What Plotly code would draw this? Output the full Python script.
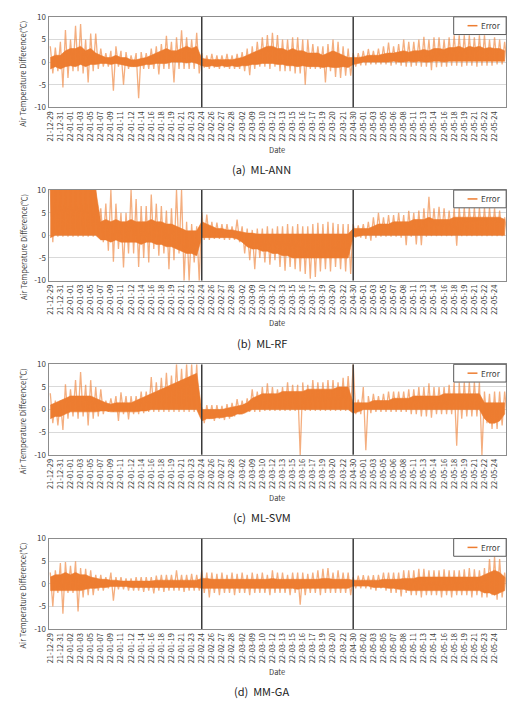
import plotly.graph_objects as go

W, H = 524, 704
ORANGE = "#ED7D31"
SPIKE = "rgba(237,125,49,0.62)"
FONT = "Noto Sans CJK KR"

# ---------------- tick labels ----------------
SEG1 = ["21-12-29", "21-12-31", "22-01-01", "22-01-03", "22-01-05", "22-01-07", "22-01-09", "22-01-11",
        "22-01-12", "22-01-14", "22-01-16", "22-01-18", "22-01-19", "22-01-21", "22-01-23", "22-02-24"]
SEG1_D = ["21-12-29", "21-12-31", "22-01-02", "22-01-03", "22-01-05", "22-01-07", "22-01-09", "22-01-11",
          "22-01-12", "22-01-14", "22-01-16", "22-01-18", "22-01-19", "22-01-21", "22-01-23", "22-02-24"]
SEG2_21 = ["22-02-26", "22-02-27", "22-02-28", "22-03-02", "22-03-09", "22-03-10", "22-03-12", "22-03-13",
           "22-03-15", "22-03-16", "22-03-17", "22-03-19", "22-03-20", "22-03-21", "22-04-30"]
SEG2_22 = ["22-02-26", "22-02-27", "22-02-28", "22-03-02", "22-03-09", "22-03-10", "22-03-12", "22-03-13",
           "22-03-15", "22-03-16", "22-03-17", "22-03-19", "22-03-20", "22-03-22", "22-04-30"]
SEG3_A = ["22-05-01", "22-05-03", "22-05-05", "22-05-06", "22-05-08", "22-05-11", "22-05-13", "22-05-14",
          "22-05-16", "22-05-18", "22-05-19", "22-05-21", "22-05-22", "22-05-24"]
SEG3_B = ["22-05-01", "22-05-03", "22-05-05", "22-05-07", "22-05-08", "22-05-11", "22-05-13", "22-05-14",
          "22-05-16", "22-05-18", "22-05-19", "22-05-21", "22-05-22", "22-05-24"]
SEG3_D = ["22-05-02", "22-05-03", "22-05-05", "22-05-07", "22-05-08", "22-05-11", "22-05-13", "22-05-14",
          "22-05-16", "22-05-18", "22-05-19", "22-05-21", "22-05-23", "22-05-24"]

LABELS_A = SEG1 + SEG2_21 + SEG3_A
LABELS_B = SEG1 + SEG2_22 + SEG3_B
LABELS_C = SEG1 + SEG2_22 + SEG3_A
LABELS_D = SEG1_D + SEG2_22 + SEG3_D

Y_TICKS = [-10, -5, 0, 5, 10]
Y_TEXT = ["-10", "-5", "0", "5", "10"]

# ---------------- error values, read every half tick (0, 0.5, ... 45) ----------------
# UP / DN: extreme spikes; CORE_HI / CORE_LO: dense body of the series
# (a) ML-ANN
ANN_UP = [3.5, 3.2, 4.5, 7.1, 5.0, 8.0, 8.4, 5.0, 6.3, 6.3, 3.0, 2.0, 2.5, 3.5, 2.5, 2.2, 1.5, 2.0, 2.2, 2.0,
          3.0, 3.5, 4.0, 5.8, 4.5, 5.5, 7.0, 5.5, 5.0, 6.5,
          2.0, 1.5, 1.8, 1.5, 1.5, 1.8, 1.5, 1.8, 2.2, 3.0, 3.5, 4.5, 5.5, 6.0, 6.5, 6.0, 5.0, 5.0, 5.5, 5.5,
          5.0, 5.0, 4.0, 3.5, 3.5, 4.0, 5.0, 4.5, 3.5, 3.0,
          2.0, 2.0, 2.5, 2.9, 2.5, 3.0, 3.5, 4.3, 3.5, 4.0, 5.0, 4.5, 4.5, 5.0, 5.6, 5.0, 5.5, 5.5, 5.0, 5.5,
          5.9, 5.9, 5.9, 5.9, 5.5, 5.9, 5.9, 5.0, 5.5, 5.0, 4.5]
ANN_DN = [-2.5, -2.0, -5.6, -3.5, -2.0, -2.0, -2.5, -4.5, -2.0, -1.5, -1.0, -1.0, -6.3, -1.0, -5.0, -1.5, -1.0,
          -8.0, -1.5, -1.5, -1.5, -2.7, -1.5, -1.5, -4.5, -1.5, -1.5, -1.5, -1.5, -2.5,
          -1.2, -1.5, -1.2, -1.5, -1.2, -1.5, -1.5, -1.5, -2.0, -2.9, -1.5, -1.0, -1.0, -1.5, -1.0, -2.0, -2.0,
          -2.0, -2.5, -2.5, -5.0, -1.5, -1.5, -1.5, -4.5, -2.0, -3.3, -3.5, -3.0, -3.0,
          -1.0, -0.7, -0.7, -0.5, -0.5, -0.5, -0.5, -0.8, -0.5, -0.8, -1.0, -1.0, -0.8, -1.0, -1.0, -1.8, -1.1,
          -1.0, -1.0, -0.8, -0.8, -1.0, -0.8, -0.8, -1.0, -0.8, -0.8, -0.8, -0.5, -0.5, -0.5]
ANN_CORE_HI = [1.0, 1.5, 1.5, 2.5, 3.0, 3.0, 3.5, 2.5, 3.0, 2.0, 1.5, 1.0, 1.0, 1.5, 1.0, 1.0, 0.5, 0.5, 0.8, 1.0,
               1.5, 2.0, 2.5, 3.0, 2.5, 2.5, 3.0, 3.5, 3.0, 3.5,
               0.8, 0.6, 0.5, 0.6, 0.5, 0.6, 0.5, 0.8, 1.0, 1.5, 2.0, 2.5, 3.0, 3.5, 3.5, 3.0, 3.0, 2.5, 3.0, 2.5,
               2.5, 2.0, 2.0, 2.0, 1.5, 2.0, 2.5, 2.0, 1.5, 1.0,
               1.0, 1.0, 1.2, 1.5, 1.5, 1.5, 1.8, 2.0, 2.0, 2.2, 2.5, 2.2, 2.5, 2.5, 2.8, 2.5, 3.0, 3.0, 2.8, 3.2,
               3.2, 3.5, 3.0, 3.5, 3.2, 3.5, 3.0, 3.2, 3.0, 3.0, 2.5]
ANN_CORE_LO = [-1.5, -1.0, -1.5, -1.0, -0.8, -1.0, -0.5, -1.0, -0.5, -0.5, -0.3, -0.3, -0.5, -0.3, -0.5, -0.8,
               -1.0, -1.0, -0.8, -0.5, -0.5, -0.3, -0.3, -0.3, 0.0, 0.0, 0.0, -0.2, 0.0, -0.3,
               -0.8, -1.0, -0.8, -1.0, -0.8, -1.0, -0.8, -1.0, -0.8, -0.8, -0.5, -0.5, -0.3, -0.3, -0.3, -0.5,
               -0.5, -0.8, -0.8, -1.0, -0.8, -1.0, -1.0, -1.0, -1.2, -1.0, -1.2, -1.2, -1.0, -1.2,
               -0.5, -0.3, 0.0, 0.0, 0.0, 0.0, 0.0, 0.0, 0.2, 0.0, 0.0, 0.2, 0.0, 0.2, 0.0, 0.0, 0.2, 0.2, 0.0,
               0.2, 0.2, 0.3, 0.2, 0.3, 0.2, 0.3, 0.2, 0.2, 0.3, 0.2, 0.2]

# (b) ML-RF
RF_UP = [10, 10, 10, 10, 10, 10, 10, 10, 10, 10, 6, 7, 10, 7, 5, 5, 10, 8, 6.5, 6.5,
         9, 7, 6.5, 5.5, 6, 10, 10, 3, 2.5, 2,
         5.1, 4.6, 3, 2.8, 2.5, 2.5, 2, 3.5, 2, 1.5, 1.2, 1.5, 1.5, 2, 1.5, 2, 2, 2.5, 2, 2.5,
         2, 2, 2.5, 2.8, 2.5, 3.0, 2.8, 2.5, 2.5, 2.5,
         2.5, 2.2, 2.5, 3, 4, 5, 4, 4.5, 4.5, 5, 4.5, 5.4, 5, 5.5, 6, 8.5, 6, 6.3, 6, 5.5,
         6, 6.1, 6.1, 6.1, 6.1, 6.1, 6.1, 6.1, 6.0, 5.5, 4]
RF_DN = [-1.5, -0.3, -0.3, -0.3, -0.3, -0.3, -0.3, -0.3, -0.3, -0.3, -1.5, -3.4, -5.8, -3.0, -7.1, -4.0, -4.0,
         -7.0, -5.0, -6.0, -3.0, -4.5, -4.0, -7.5, -5.5, -4.0, -10, -10, -6.0, -10,
         -1.0, -1.0, -0.8, -0.8, -1.0, -1.0, -1.0, -1.5, -4.0, -5.5, -7.5, -5.0, -6.0, -6.5, -5.5, -7.0, -7.8,
         -7.0, -7.5, -8.0, -8.5, -9.6, -9.2, -8.0, -7.5, -8.0, -7.0, -7.5, -8.0, -8.5,
         -0.5, -0.5, -0.8, -1.2, -0.5, -0.3, -0.3, -0.3, -0.3, -0.5, -2.2, -0.3, -2.0, -2.2, -0.3, -0.2, -0.2,
         -0.2, -0.2, -0.2, -2.3, -0.2, -0.2, -0.2, -0.2, -0.2, -0.2, -0.2, -0.2, -0.2, -0.2]
RF_CORE_HI = [10, 10, 10, 10, 10, 10, 10, 10, 10, 10, 3.0, 3.5, 3.0, 3.5, 3.0, 3.0, 3.5, 3.0, 3.0, 3.0,
              3.5, 3.0, 3.0, 2.5, 2.5, 2.0, 1.5, 1.0, 1.0, 1.0,
              3.0, 2.5, 2.0, 1.5, 1.5, 1.2, 1.2, 1.0, 0.8, 0.5, 0.5, 0.3, 0.3, 0.3, 0.3, 0.3, 0.3, 0.3, 0.3, 0.3,
              0.3, 0.3, 0.3, 0.3, 0.3, 0.3, 0.3, 0.3, 0.3, 0.3,
              1.5, 1.5, 1.5, 1.5, 2.0, 2.5, 2.5, 2.5, 3.0, 3.0, 3.0, 3.0, 3.5, 3.5, 3.5, 4.0, 3.5, 3.5, 3.5, 3.5,
              4.0, 4.0, 4.0, 4.0, 4.0, 4.0, 4.0, 4.0, 4.0, 4.0, 3.5]
RF_CORE_LO = [-0.5, 0, 0, 0, 0, 0, 0, 0, 0, 0, -1.0, -1.0, -1.5, -1.0, -1.5, -1.5, -1.5, -1.5, -2.0, -1.5,
              -1.5, -2.0, -2.0, -2.5, -2.5, -3.0, -3.5, -4.0, -4.0, -4.5,
              -0.5, -0.5, -0.5, -0.5, -0.5, -0.5, -0.5, -0.8, -1.5, -2.5, -3.0, -3.0, -3.5, -3.5, -4.0, -4.0,
              -4.5, -4.5, -5.0, -5.0, -5.0, -5.0, -5.0, -5.0, -5.0, -5.0, -5.0, -5.0, -5.0, -5.0,
              -0.3, -0.2, 0, 0, 0, 0, 0, 0, 0, 0, 0, 0, 0, 0, 0, 0, 0, 0, 0, 0, 0, 0, 0, 0, 0, 0, 0, 0, 0, 0, 0]

# (c) ML-SVM
SVM_UP = [3.6, 2.0, 2.0, 5.6, 4.5, 6.5, 8.3, 5.5, 6.5, 5.0, 4.5, 2.0, 2.5, 3.0, 3.8, 3.0, 3.0, 3.0, 4.0, 4.0,
          7.2, 6.0, 7.0, 8.1, 7.5, 10, 9.0, 10, 10, 10,
          0.5, 1, 1, 1, 0.8, 1.2, 1.5, 2.3, 2, 2.5, 4.5, 4, 5, 5.8, 5, 4.5, 5, 6, 5.5, 5.5,
          6, 5.5, 6.5, 6, 6, 6.5, 6.5, 6, 7, 7.4,
          10, 2.2, 5, 3, 3.5, 3, 3.5, 4, 4, 4, 4, 4.5, 4.5, 5, 5, 5.8, 5, 5, 5, 5.5,
          6, 6, 6, 6, 6, 6, 4, 3.5, 4, 4, 4]
SVM_DN = [-3.0, -3.5, -4.5, -2.0, -1.5, -2.0, -1.5, -3.5, -2.0, -1.5, -1.0, -0.5, -0.5, -2.5, -1.0, -2.2, -1.0,
          -1.0, -0.8, -0.5, -0.5, -0.5, -0.5, -0.5, -0.5, -0.5, -0.5, -0.5, -0.5, -0.5,
          -3.0, -2.0, -2.5, -2.0, -2.3, -2.0, -1.5, -1.0, -0.8, -0.5, -0.5, -0.5, -0.3, -0.3, -0.3, -0.3, -0.3,
          -0.3, -0.3, -10, -0.3, -0.3, -0.3, -0.3, -0.3, -0.3, -0.3, -0.3, -0.3, -0.3,
          -1.0, -1.0, -9.0, -0.8, -0.5, -0.5, -0.5, -0.5, -0.5, -0.5, -0.5, -1.0, -1.0, -1.5, -1.5, -1.8, -1.0,
          -1.0, -1.0, -1.0, -8.0, -2.0, -1.5, -1.5, -1.5, -10, -3.0, -4.3, -4.3, -3.5, -1.5]
SVM_CORE_HI = [1.0, 1.5, 2.0, 2.5, 3.0, 3.0, 3.0, 3.0, 3.0, 2.5, 2.0, 1.5, 1.2, 1.5, 1.5, 1.5, 1.5, 2.0, 2.5, 3.0,
               3.5, 4.0, 4.5, 5.0, 5.5, 6.0, 6.5, 7.0, 7.5, 8.0,
               0.0, 0.0, 0.0, 0.0, 0.0, 0.3, 0.5, 0.8, 1.0, 1.5, 2.5, 3.0, 3.5, 3.5, 3.5, 3.5, 4.0, 4.0, 4.0, 4.0,
               4.0, 4.5, 4.5, 4.5, 4.5, 4.5, 4.5, 5.0, 5.0, 5.0,
               1.5, 1.5, 1.5, 1.5, 2.0, 2.0, 2.0, 2.0, 2.5, 2.5, 2.5, 2.5, 3.0, 3.0, 3.0, 3.0, 3.0, 3.0, 3.5, 3.5,
               3.5, 3.5, 3.5, 3.5, 3.5, 3.5, 1.5, 1.5, 1.5, 1.5, 1.5]
SVM_CORE_LO = [-2.0, -1.5, -1.5, -1.0, -0.5, -0.5, -0.5, -0.5, -0.5, -0.5, -0.3, -0.3, -0.5, -0.5, -0.5, -0.5,
               -0.5, -0.5, -0.3, -0.3, 0, 0, 0, 0, 0, 0, 0, 0, 0, 0,
               -2.5, -2.0, -2.0, -1.8, -1.8, -1.5, -1.5, -1.0, -1.0, -0.5, 0, 0, 0, 0, 0, 0, 0, 0, 0, 0,
               0, 0, 0, 0, 0, 0, 0, 0, 0, 0,
               -0.8, -0.5, 0, 0, 0, 0, 0, 0, 0, 0, 0, 0, 0, 0, 0, 0, 0, 0, 0, 0,
               0, 0, 0, 0, 0, 0, -2.0, -3.0, -3.0, -2.5, -1.0]

# (d) MM-GA
GA_UP = [2.5, 3, 4.6, 4.8, 4, 5, 3.5, 3.3, 3, 2, 2, 1.5, 2.5, 1.5, 1.5, 1.2, 1.2, 1.5, 1.5, 1.5,
         1.5, 1.8, 2, 2, 2, 3, 2, 2, 2.2, 2,
         3, 2.5, 2.5, 2.2, 2.5, 2, 2.5, 2.2, 2.5, 2, 2.5, 2.2, 2.5, 2, 3, 2.5, 2.5, 2, 2.5, 2.5,
         2.5, 2.2, 2.5, 3, 3.3, 3.5, 2.5, 3, 2.5, 2.5,
         1.5, 1.8, 1.9, 1.8, 1.9, 2, 2.5, 2.5, 2.5, 2.5, 3, 3, 3, 3.3, 3.3, 3, 3, 3, 3.2, 3,
         3, 3, 3.2, 3.5, 3.2, 3, 3.5, 5.5, 6, 5.5, 2.5]
GA_DN = [-5, -2, -6.6, -2, -2, -6.1, -3, -2.5, -2.5, -1.5, -1.5, -1, -3.7, -1.2, -1.2, -1.5, -1.5, -1.5, -1.8,
         -1.5, -2.1, -1.5, -1.8, -1.5, -1.5, -1.5, -1.8, -1.5, -1.5, -1.5,
         -2, -3, -2, -2.5, -2, -2, -2.5, -2, -2, -2.5, -2, -2, -2, -2.5, -2, -2, -2, -2.5, -2, -4.6,
         -2.5, -2, -2, -2.5, -2, -2, -2, -2, -2, -2.5,
         -1, -1, -1, -1.2, -1.5, -1, -1.5, -2, -2, -2.8, -2, -2.5, -2.5, -3, -2.5, -2.5, -2.5, -3, -2.5, -3,
         -2.5, -2.5, -2.5, -3, -2.5, -3, -3, -2.5, -3.5, -3, -2.5]
GA_CORE_HI = [1.5, 2.0, 2.0, 2.5, 2.0, 2.5, 2.0, 2.0, 1.5, 1.2, 1.0, 1.0, 0.8, 0.8, 0.6, 0.6, 0.6, 0.6, 0.6, 0.6,
              0.6, 0.8, 0.8, 0.8, 0.8, 0.8, 0.8, 0.8, 0.8, 0.8,
              1.2, 1.2, 1.0, 1.0, 1.0, 1.0, 1.0, 1.0, 1.0, 1.0, 1.0, 1.0, 1.0, 1.0, 1.2, 1.0, 1.0, 1.0, 1.0, 1.0,
              1.0, 1.0, 1.0, 1.0, 1.2, 1.2, 1.0, 1.0, 1.0, 1.0,
              0.8, 0.8, 0.8, 0.8, 0.8, 0.8, 1.0, 1.0, 1.0, 1.0, 1.2, 1.2, 1.2, 1.5, 1.5, 1.5, 1.5, 1.5, 1.5, 1.5,
              1.5, 1.5, 1.5, 1.5, 1.5, 1.5, 2.0, 2.5, 3.0, 2.5, 1.5]
GA_CORE_LO = [-1.5, -1.5, -1.5, -1.5, -1.5, -1.5, -1.5, -1.2, -1.0, -1.0, -0.8, -0.8, -0.6, -0.6, -0.6, -0.6,
              -0.8, -0.8, -0.8, -0.8, -0.8, -0.8, -0.8, -0.8, -0.8, -0.8, -0.8, -0.8, -0.8, -0.8,
              -1.0, -1.0, -1.0, -1.0, -1.0, -1.0, -1.0, -1.0, -1.0, -1.0, -1.0, -1.0, -1.0, -1.0, -1.0, -1.0,
              -1.0, -1.0, -1.0, -1.2, -1.0, -1.0, -1.0, -1.0, -1.0, -1.0, -1.0, -1.0, -1.0, -1.0,
              -0.5, -0.5, -0.5, -0.5, -0.8, -0.8, -0.8, -1.0, -1.0, -1.2, -1.2, -1.5, -1.5, -1.5, -1.5, -1.5,
              -1.5, -1.5, -1.5, -1.5, -1.5, -1.5, -1.5, -1.5, -1.5, -1.5, -2.0, -2.0, -2.5, -2.0, -1.5]

CAPTIONS = ["(a)  ML-ANN", "(b)  ML-RF", "(c)  ML-SVM", "(d)  MM-GA"]
PANELS = [
    (LABELS_A, ANN_UP, ANN_DN, ANN_CORE_HI, ANN_CORE_LO),
    (LABELS_B, RF_UP, RF_DN, RF_CORE_HI, RF_CORE_LO),
    (LABELS_C, SVM_UP, SVM_DN, SVM_CORE_HI, SVM_CORE_LO),
    (LABELS_D, GA_UP, GA_DN, GA_CORE_HI, GA_CORE_LO),
]
DIVIDERS = [15, 30]

# ---------------- layout geometry (pixels) ----------------
PLOT_L, PLOT_R = 44, 506
TOPS = [11, 187, 364, 541]
PH = 92


def px(x):
    return x / W


def py(y):
    return 1 - y / H


fig = go.Figure()
shapes, annos = [], []
layout = {}

for k, (labels, up, dn, chi, clo) in enumerate(PANELS):
    sfx = "" if k == 0 else str(k + 1)
    xa, ya = "x" + sfx, "y" + sfx
    top = TOPS[k]
    bot = top + PH

    cx = [j * 0.5 for j in range(len(chi))]
    fig.add_trace(go.Scatter(x=cx + cx[::-1], y=chi + clo[::-1], fill="toself", fillcolor=ORANGE,
                             mode="lines", line=dict(width=0.6, color=ORANGE), xaxis=xa, yaxis=ya,
                             showlegend=False, hoverinfo="skip"))
    zx, zy = [], []
    for j, (u, d) in enumerate(zip(up, dn)):
        zx += [j * 0.5, j * 0.5 + 0.25]
        zy += [u, d]
    fig.add_trace(go.Scatter(x=zx, y=zy, mode="lines", line=dict(color=SPIKE, width=1.3),
                             xaxis=xa, yaxis=ya, name="Error", showlegend=False, hoverinfo="skip"))

    layout["xaxis" + sfx] = dict(
        domain=[px(PLOT_L), px(PLOT_R)], anchor=ya, range=[-0.17, 45.15],
        tickmode="array", tickvals=list(range(len(labels))), ticktext=labels, tickangle=-90,
        tickfont=dict(family=FONT, size=7.5, color="#404040"),
        showgrid=False, zeroline=False, showline=True, mirror=True, linecolor="#8c8c8c", linewidth=1,
        ticks="", fixedrange=True)
    layout["yaxis" + sfx] = dict(
        domain=[py(bot), py(top)], anchor=xa, range=[-10, 10],
        tickmode="array", tickvals=Y_TICKS, ticktext=Y_TEXT,
        tickfont=dict(family=FONT, size=8, color="#404040"),
        showgrid=True, gridcolor="#d9d9d9", gridwidth=1, zeroline=False,
        showline=True, mirror=True, linecolor="#8c8c8c", linewidth=1, ticks="", fixedrange=True)

    for dv in DIVIDERS:
        shapes.append(dict(type="line", xref=xa, yref=ya, x0=dv, x1=dv, y0=-10, y1=10,
                           line=dict(color="#3a3a3a", width=1.5), layer="above"))

    # legend box
    shapes.append(dict(type="rect", xref="paper", yref="paper", x0=px(453), x1=px(506),
                       y0=py(top + 18), y1=py(top), line=dict(color="#5a5a5a", width=1),
                       fillcolor="white", layer="above"))
    shapes.append(dict(type="line", xref="paper", yref="paper", x0=px(467), x1=px(477),
                       y0=py(top + 9), y1=py(top + 9), line=dict(color=ORANGE, width=1.5), layer="above"))
    annos.append(dict(text="Error", xref="paper", yref="paper", x=px(479), y=py(top + 9),
                      xanchor="left", yanchor="middle", showarrow=False,
                      font=dict(family=FONT, size=8, color="#404040")))
    # axis title
    annos.append(dict(text="Air Temperature Difference(℃)", xref="paper", yref="paper",
                      x=px(18), y=py(top + 58), textangle=-90, xanchor="center", yanchor="middle",
                      showarrow=False, font=dict(family=FONT, size=7.5, color="#404040")))
    annos.append(dict(text="Date", xref="paper", yref="paper", x=px(275), y=py(bot + 43),
                      xanchor="center", yanchor="middle", showarrow=False,
                      font=dict(family=FONT, size=7.5, color="#404040")))
    annos.append(dict(text=CAPTIONS[k], xref="paper", yref="paper", x=px(259), y=py(top + 155),
                      xanchor="center", yanchor="middle", showarrow=False,
                      font=dict(family=FONT, size=11, color="#222222")))

fig.update_layout(width=W, height=H, autosize=False, margin=dict(l=0, r=0, t=0, b=0),
                  paper_bgcolor="white", plot_bgcolor="white", showlegend=False,
                  shapes=shapes, annotations=annos, **layout)

fig.write_html("out.html")
